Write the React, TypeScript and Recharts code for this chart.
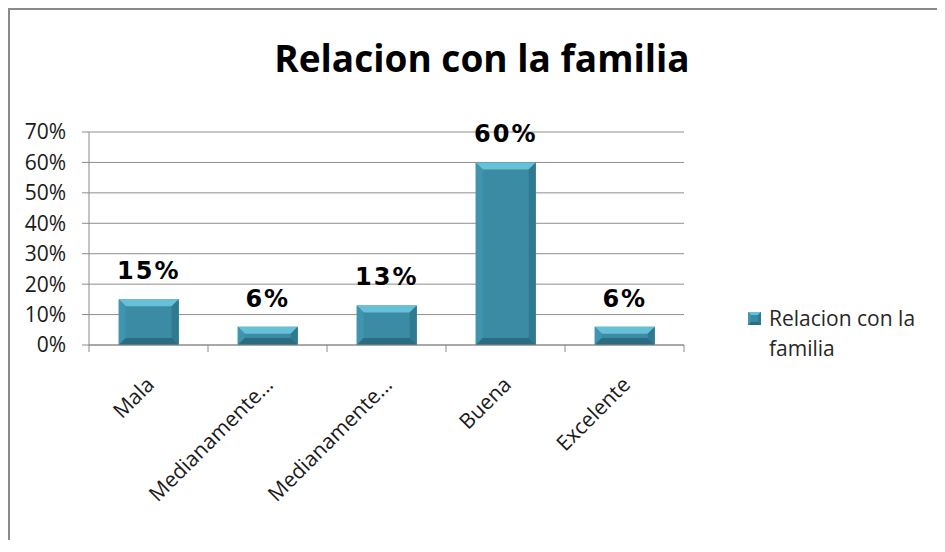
import { BarChart, Bar, XAxis, YAxis, CartesianGrid, Legend, LabelList } from 'recharts';

const categories = ['Mala', 'Medianamente...', 'Medianamente...', 'Buena', 'Excelente'];
const values = [0.15, 0.06, 0.13, 0.6, 0.06];
const yTicks = [0, 0.1, 0.2, 0.3, 0.4, 0.5, 0.6, 0.7];
const seriesName = 'Relacion con la familia';
const title = 'Relacion con la familia';

const data = categories.map((name, i) => ({ name, value: values[i] }));

const pct = (v: number) => `${Math.round(v * 100)}%`;
const font = '"Open Sans", sans-serif';

// bar drawn with an Excel-like bevel
function BevelBar(props: any) {
  const { x, y, width, height } = props;
  if (!height || height <= 0) return null;
  const b = Math.min(props.bevel ?? 7, height / 2, width / 2);
  return (
    <g>
      <rect x={x} y={y} width={width} height={height} fill="#3A8BA3" />
      <polygon
        points={`${x},${y} ${x + width},${y} ${x + width - b},${y + b} ${x + b},${y + b}`}
        fill="#66C0D7"
      />
      <polygon
        points={`${x},${y} ${x + b},${y + b} ${x + b},${y + height - b} ${x},${y + height}`}
        fill="#3F95AD"
      />
      <polygon
        points={`${x + width},${y} ${x + width},${y + height} ${x + width - b},${y + height - b} ${x + width - b},${y + b}`}
        fill="#2F7A90"
      />
      <polygon
        points={`${x},${y + height} ${x + b},${y + height - b} ${x + width - b},${y + height - b} ${x + width},${y + height}`}
        fill="#2A6C80"
      />
    </g>
  );
}

function XTick(props: any) {
  const { x, y, payload, index } = props;
  const half = payload?.offset ?? 0;
  return (
    <g>
      {index === 0 && <line x1={x - half} x2={x - half} y1={y} y2={y + 7} stroke="#8a8a8a" />}
      <line x1={x + half} x2={x + half} y1={y} y2={y + 7} stroke="#8a8a8a" />
      <text
        transform={`translate(${x + 7},${y + 41}) rotate(-45)`}
        textAnchor="end"
        fontFamily={font}
        fontSize={21}
        fill="#1a1a1a"
      >
        {payload.value}
      </text>
    </g>
  );
}

function LegendContent(props: any) {
  const item = props.payload?.[0];
  return (
    <div
      style={{
        display: 'flex',
        alignItems: 'flex-start',
        fontFamily: font,
        fontSize: 21,
        lineHeight: '30px',
        color: '#262626',
      }}
    >
      <svg width={13} height={13} style={{ marginTop: 9, marginRight: 8, flex: 'none' }}>
        <BevelBar x={0} y={0} width={13} height={13} bevel={3} />
      </svg>
      <div style={{ width: 165 }}>{item?.value}</div>
    </div>
  );
}

export default function App() {
  return (
    <div
      style={{
        position: 'relative',
        width: 927,
        height: 530,
        borderTop: '2px solid #8a8a8a',
        borderLeft: '2px solid #8a8a8a',
        boxShadow: '3px 3px 7px rgba(0,0,0,0.3)',
        background: '#fff',
      }}
    >
      <div
        style={{
          position: 'absolute',
          left: 222,
          top: 29,
          width: 500,
          textAlign: 'center',
          fontFamily: font,
          fontWeight: 700,
          fontSize: 37,
          lineHeight: '37px',
          color: '#000',
        }}
      >
        {title}
      </div>
      <BarChart
        width={927}
        height={530}
        data={data}
        margin={{ top: 122, right: 253, left: 0, bottom: 75 }}
        barCategoryGap="25%"
      >
        <CartesianGrid vertical={false} stroke="#8e8e8e" />
        <XAxis
          dataKey="name"
          height={120}
          stroke="#8a8a8a"
          tickLine={false}
          tickSize={0}
          tickMargin={0}
          interval={0}
          tick={<XTick />}
        />
        <YAxis
          width={79}
          domain={[0, 0.7]}
          ticks={yTicks}
          tickFormatter={pct}
          stroke="#8a8a8a"
          tickSize={7}
          tickMargin={16}
          tick={{ fontFamily: font, fontSize: 21, fill: '#1a1a1a' }}
        />
        <Legend
          layout="vertical"
          align="center"
          verticalAlign="middle"
          content={<LegendContent />}
          wrapperStyle={{ left: 738, top: 293, width: 190 }}
        />
        <Bar dataKey="value" name={seriesName} shape={<BevelBar />} isAnimationActive={false}>
          <LabelList
            dataKey="value"
            position="top"
            offset={20}
            formatter={(v: any) => pct(Number(v))}
            style={{
              fontFamily: '"DejaVu Sans", sans-serif',
              fontWeight: 700,
              fontSize: 24,
              letterSpacing: 2,
              fill: '#000',
            }}
          />
        </Bar>
      </BarChart>
    </div>
  );
}
